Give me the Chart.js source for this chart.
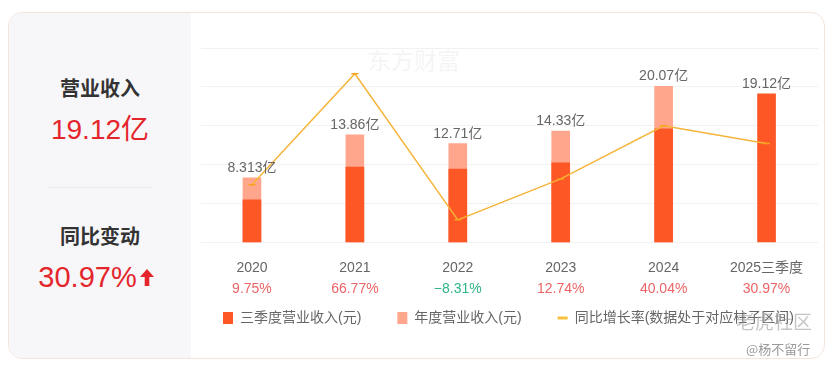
<!DOCTYPE html>
<html>
<head>
<meta charset="utf-8">
<script src="https://cdn.jsdelivr.net/npm/chart.js@4"></script>
<style>
  html, body { margin: 0; padding: 0; background: #fff; }
  body { width: 830px; height: 367px; position: relative; overflow: hidden;
         font-family: "Liberation Sans", "Noto Sans CJK SC", sans-serif; }
  .card { position: absolute; left: 8px; top: 12px; width: 815px; height: 345px;
          border: 1.5px solid #f5e4da; border-radius: 14px; }
  .side { position: absolute; left: 0; top: 0; width: 182px; height: 345px;
          background: #f7f7f9; border-radius: 13px 0 0 13px; }
  .side .t { position: absolute; left: 0; width: 182px; text-align: center;
             font-family: "Noto Sans CJK SC", sans-serif; font-weight: 700; font-size: 20px; color: #333; }
  .side .v { position: absolute; left: 0; width: 182px; text-align: center; color: #e4262c; }
  .side .sep { position: absolute; left: 40px; top: 174px; width: 104px; height: 1px; background: #e9e9ec; }
  #wrap { position: absolute; left: 195px; top: 20px; width: 630px; height: 320px; }
  .wm { position: absolute; white-space: nowrap; font-family: "Noto Sans CJK SC", sans-serif; }
</style>
</head>
<body>
<div class="card">
  <div class="side">
    <div class="t" style="top:60px">营业收入</div>
    <div class="v" style="top:94px;font-size:28px">19.12亿</div>
    <div class="sep"></div>
    <div class="t" style="top:208px">同比变动</div>
    <div class="v" style="top:248px;font-size:29px;left:-4px">30.97%<svg width="14" height="17" viewBox="0 0 14 17" style="margin-left:3px;vertical-align:1px"><path d="M7 0 L14 8 L9.3 8 L9.3 17 L4.7 17 L4.7 8 L0 8 Z" fill="#e4262c"/></svg></div>
  </div>
</div>
<div class="wm" style="left:368px;top:42px;font-size:23px;color:rgba(190,190,190,0.16)">东方财富</div>
<div id="wrap"><canvas id="c"></canvas></div>
<div class="wm" style="left:736px;top:307px;font-size:19px;color:rgba(150,150,150,0.55)">老虎社区</div>
<div class="wm" style="left:746px;top:339px;font-size:13px;color:#9a9a9a">@杨不留行</div>
<script>
// categories and values
const years = ['2020', '2021', '2022', '2023', '2024', '2025三季度'];
const q3Revenue = [5.5, 9.7, 9.45, 10.25, 14.6, 19.12];       // 三季度营业收入 (亿)
const annualRevenue = [8.313, 13.86, 12.71, 14.33, 20.07, null]; // 年度营业收入 (亿)
const growthRate = [9.75, 66.77, -8.31, 12.74, 40.04, 30.97];  // 同比增长率 (%)
const growthLabels = ['9.75%', '66.77%', '−8.31%', '12.74%', '40.04%', '30.97%'];
const revenueLabels = ['8.313亿', '13.86亿', '12.71亿', '14.33亿', '20.07亿', '19.12亿'];

const FONT = '"Liberation Sans", "Noto Sans CJK SC", sans-serif';

// value labels above the taller bar of each year
const barLabels = {
    id: 'barLabels',
    afterDatasetsDraw(chart) {
        const ctx = chart.ctx;
        const q3 = chart.getDatasetMeta(0).data;
        const an = chart.getDatasetMeta(1).data;
        ctx.save();
        ctx.font = '14px ' + FONT;
        ctx.fillStyle = '#666';
        ctx.textAlign = 'center';
        ctx.textBaseline = 'bottom';
        years.forEach((y, i) => {
            let top = q3[i].y;
            if (annualRevenue[i] != null) top = Math.min(top, an[i].y);
            ctx.fillText(revenueLabels[i], q3[i].x, top - 3);
        });
        ctx.restore();
    }
};

const ctx = document.getElementById('c').getContext('2d');
const chart = new Chart(ctx, {
    type: 'bar',
    data: {
        labels: years,
        datasets: [{
            label: '三季度营业收入(元)',
            data: q3Revenue,
            backgroundColor: '#fd5725',
            grouped: false,
            barThickness: 18,
            order: 1,
            pointStyle: 'rect'
        }, {
            label: '年度营业收入(元)',
            data: annualRevenue,
            backgroundColor: '#ffa68c',
            grouped: false,
            barThickness: 18,
            order: 2,
            pointStyle: 'rect'
        }, {
            type: 'line',
            label: '同比增长率(数据处于对应柱子区间)',
            data: growthRate,
            yAxisID: 'y2',
            borderColor: '#f6b53a',
            borderWidth: 1.5,
            tension: 0,
            pointRadius: 3.5,
            pointBackgroundColor: '#ffcf3a',
            pointBorderColor: '#f5a21f',
            pointBorderWidth: 1.5,
            order: 0,
            pointStyle: 'line'
        }]
    },
    options: {
        responsive: true,
        maintainAspectRatio: false,
        animation: false,
        layout: { padding: { top: 28, left: 4, right: 7, bottom: 5 } },
        scales: {
            x: {
                offset: true,
                grid: { display: false, drawTicks: false },
                border: { display: false },
                ticks: {
                    color: '#666',
                    font: { size: 14, family: FONT },
                    padding: 0,
                    // blank first line keeps the year a little below the bars
                    callback: (v, i) => ['', years[i]]
                }
            },
            x2: {
                type: 'category',
                labels: growthLabels,
                position: 'bottom',
                offset: true,
                grid: { display: false, drawTicks: false },
                border: { display: false },
                ticks: {
                    padding: 5,
                    font: { size: 14, family: FONT },
                    color: c => growthRate[c.index] < 0 ? '#2fb38b' : '#ec6466'
                }
            },
            y: {
                min: 0,
                max: 25,
                ticks: { display: false, stepSize: 5 },
                grid: { color: '#f1f1f1', drawTicks: false },
                border: { display: false }
            },
            y2: {
                display: false,
                min: -20,
                max: 80,
                position: 'right'
            }
        },
        plugins: {
            legend: {
                position: 'bottom',
                labels: {
                    usePointStyle: true,
                    pointStyleWidth: 10,
                    boxHeight: 12,
                    padding: 8,
                    color: '#666',
                    font: { size: 14, family: FONT },
                    sort: (a, b) => a.datasetIndex - b.datasetIndex,
                    generateLabels(chart) {
                        const items = Chart.defaults.plugins.legend.labels.generateLabels(chart);
                        items.forEach(it => {
                            if (it.datasetIndex < 2) {
                                it.text = it.text + '\u3000\u3000';
                                it.lineWidth = 0;
                            } else {
                                it.strokeStyle = '#f7c13c';
                                it.lineWidth = 3;
                            }
                        });
                        return items;
                    }
                }
            },
            tooltip: { enabled: false }
        }
    },
    plugins: [barLabels]
});
</script>
</body>
</html>
